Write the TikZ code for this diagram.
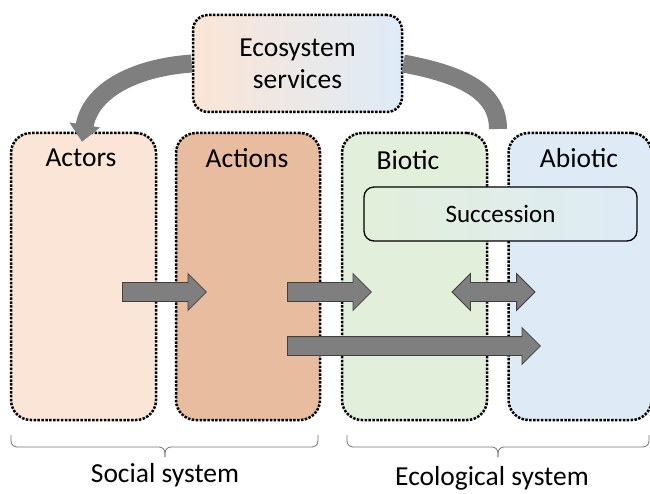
\documentclass[tikz,border=0pt]{standalone}
\usepackage{fontspec}
\setmainfont{Carlito}
\usetikzlibrary{shapes.arrows,arrows.meta,calc}
\definecolor{actorsfill}{HTML}{FBE5D6}
\definecolor{actionsfill}{HTML}{E8BC9F}
\definecolor{bioticfill}{HTML}{E2EFDA}
\definecolor{abioticfill}{HTML}{DEEBF7}
\definecolor{flowgray}{HTML}{7F7F7F}

\begin{document}
\begin{tikzpicture}[
  x=1pt, y=1pt,
  dotted_border/.style={line width=2.5pt, dash pattern=on 2.5pt off 1.4pt},
  sys_box/.style={rectangle, dotted_border, draw, rounded corners=20pt, minimum width=145pt, minimum height=287pt, inner sep=0pt},
  big_text/.style={inner sep=0pt, font=\fontsize{27.5}{32}\selectfont},
  block_arrow/.style={single arrow, anchor=tail, single arrow head extend=9pt, single arrow tip angle=90, inner xsep=0pt, inner ysep=9pt, fill=flowgray, draw=black!75, line width=0.8pt},
  dbl_arrow/.style={double arrow, double arrow head extend=9pt, double arrow tip angle=90, inner xsep=0pt, inner ysep=9pt, fill=flowgray, draw=black!75, line width=0.8pt},
  flow_band/.style={draw=flowgray, line width=18pt},
  brace_line/.style={draw=black!55, line width=0.8pt, rounded corners=6pt},
]
\useasboundingbox (0,0) rectangle (650,493);

% the four parts of the system
\draw (83.5,216.5) node (actors) [sys_box, fill=actorsfill] {};
\draw (248,216.5) node (actions) [sys_box, fill=actionsfill, minimum width=144pt] {};
\draw (414.5,216.5) node (biotic) [sys_box, fill=bioticfill] {};
\draw (580,216.5) node (abiotic) [sys_box, fill=abioticfill, minimum width=143pt] {};
\draw (81,335) node (actors_t) [big_text] {Actors};
\draw (247,335) node (actions_t) [big_text] {Actions};
\draw (408,333) node (biotic_t) [big_text] {Biotic};
\draw (579,335) node (abiotic_t) [big_text] {Abiotic};

% services and the feedback loop
\draw (297.5,429.5) node (es) [rectangle, dotted_border, draw, rounded corners=15pt, minimum width=209pt, minimum height=97pt, left color=actorsfill, middle color=bioticfill, right color=abioticfill, align=center, big_text] {Ecosystem\\services};
\coordinate (es_end) at (498,364);
\draw [flow_band, -{Triangle[width=30pt,length=17pt]}] (es.west) .. controls (130,425) and (90,400) .. ($(actors.north)+(-1.5,-10)$);
\draw [flow_band] (es.east) .. controls (465,418) and (498,400) .. (es_end);

% flows between parts
\draw (122,201) node (act_arrow) [block_arrow, minimum height=84pt] {};
\draw (287,201) node (eff_arrow) [block_arrow, minimum height=84pt] {};
\draw (493.5,201) node (succ_arrow) [dbl_arrow, minimum height=83pt] {};
\draw (287,147) node (abio_arrow) [block_arrow, minimum height=253pt] {};

\draw (500.5,279) node (succession) [rectangle, draw, line width=1.3pt, rounded corners=10pt, minimum width=273pt, minimum height=54pt, left color=bioticfill, right color=abioticfill, big_text, font=\fontsize{25}{30}\selectfont] {Succession};

% braces
\draw [brace_line] (11,58) -- (11,46) -- (165,46) -- (165,36);
\draw [brace_line] (318,58) -- (318,46) -- (165,46) -- (165,36);
\draw [brace_line] (347,58) -- (347,46) -- (498,46) -- (498,36);
\draw [brace_line] (649,58) -- (649,46) -- (498,46) -- (498,36);
\draw (165,18) node (social) [big_text] {Social system};
\draw (492,15) node (ecological) [big_text] {Ecological system};
\end{tikzpicture}
\end{document}
